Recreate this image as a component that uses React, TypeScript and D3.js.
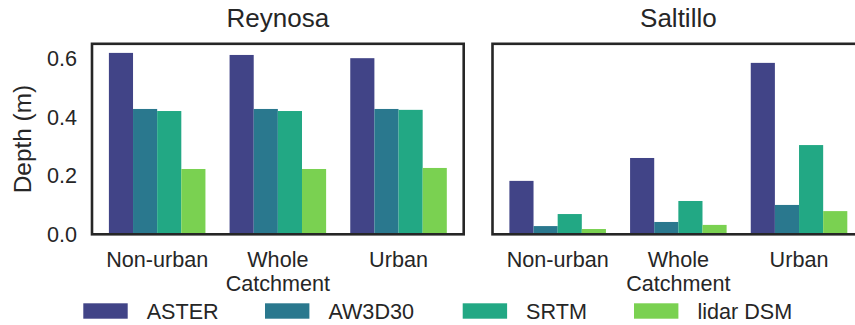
import React, { useEffect } from "react";
import * as d3 from "d3";

const cities = ["Reynosa", "Saltillo"];
const categories = ["Non-urban", "Whole\nCatchment", "Urban"];
const series = ["ASTER", "AW3D30", "SRTM", "lidar DSM"];
const colors = ["#414487", "#2A788E", "#22A884", "#7AD151"];
const yTicks = [0, 0.2, 0.4, 0.6];

// values[city][series][category]
const reynosaASTER = [0.618, 0.611, 0.6];
const reynosaAW3D30 = [0.427, 0.427, 0.427];
const reynosaSRTM = [0.42, 0.42, 0.424];
const reynosaLidar = [0.2225, 0.2225, 0.226];
const saltilloASTER = [0.182, 0.26, 0.584];
const saltilloAW3D30 = [0.028, 0.042, 0.1];
const saltilloSRTM = [0.069, 0.1135, 0.304];
const saltilloLidar = [0.018, 0.032, 0.079];

const data = [
  [reynosaASTER, reynosaAW3D30, reynosaSRTM, reynosaLidar],
  [saltilloASTER, saltilloAW3D30, saltilloSRTM, saltilloLidar],
];

const W = 855;
const H = 325;
const panelLefts = [92, 492.5];
const panelW = 371.7;
const top = 43.8;
const bottom = 234.3;
const textColor = "#262626";
const font = "'Liberation Sans', Arial, Helvetica, sans-serif";
const legendX = [83.3, 265, 462.7, 634];

export default function App() {
  useEffect(() => {
    document.body.style.margin = "0";
  }, []);

  const y = d3.scaleLinear().domain([0, 0.649]).range([bottom, top]);
  const barW = 0.2;

  return (
    <svg width={W} height={H} style={{ display: "block", overflow: "hidden" }} fontFamily={font}>
      <rect x={0} y={0} width={W} height={H} fill="#fff" />
      {cities.map((city, ci) => {
        const x0 = panelLefts[ci];
        const x = d3.scaleLinear().domain([-0.54, 2.54]).range([x0, x0 + panelW]);
        return (
          <g key={city}>
            {data[ci].map((vals, si) =>
              vals.map((v, k) => {
                const xs = x(k - 0.4 + si * barW);
                const xe = x(k - 0.4 + (si + 1) * barW);
                return (
                  <rect
                    key={`${si}-${k}`}
                    x={xs}
                    y={y(v)}
                    width={xe - xs}
                    height={y(0) - y(v)}
                    fill={colors[si]}
                  />
                );
              })
            )}
            <rect
              x={x0}
              y={top}
              width={panelW}
              height={bottom - top}
              fill="none"
              stroke={textColor}
              strokeWidth={2.6}
            />
            <text
              x={x0 + panelW / 2}
              y={26.7}
              textAnchor="middle"
              fontSize={26}
              fill={textColor}
            >
              {city}
            </text>
            {categories.map((c, k) => (
              <text
                key={c}
                x={x(k)}
                y={266.7}
                textAnchor="middle"
                fontSize={21.6}
                fill={textColor}
              >
                {c.split("\n").map((line, li) => (
                  <tspan key={li} x={x(k)} dy={li === 0 ? 0 : 24}>
                    {line}
                  </tspan>
                ))}
              </text>
            ))}
            {ci === 0 &&
              yTicks.map((t) => (
                <text
                  key={t}
                  x={x0 - 15}
                  y={y(t)}
                  dy="0.36em"
                  textAnchor="end"
                  fontSize={21.6}
                  fill={textColor}
                >
                  {t.toFixed(1)}
                </text>
              ))}
          </g>
        );
      })}
      <text
        transform={`translate(31,${(top + bottom) / 2}) rotate(-90)`}
        textAnchor="middle"
        fontSize={24.4}
        fill={textColor}
      >
        Depth (m)
      </text>
      {series.map((s, i) => (
        <g key={s}>
          <rect x={legendX[i]} y={303.3} width={44.4} height={15.4} fill={colors[i]} />
          <text x={legendX[i] + 63.4} y={318.7} fontSize={21.6} fill={textColor}>
            {s}
          </text>
        </g>
      ))}
    </svg>
  );
}
